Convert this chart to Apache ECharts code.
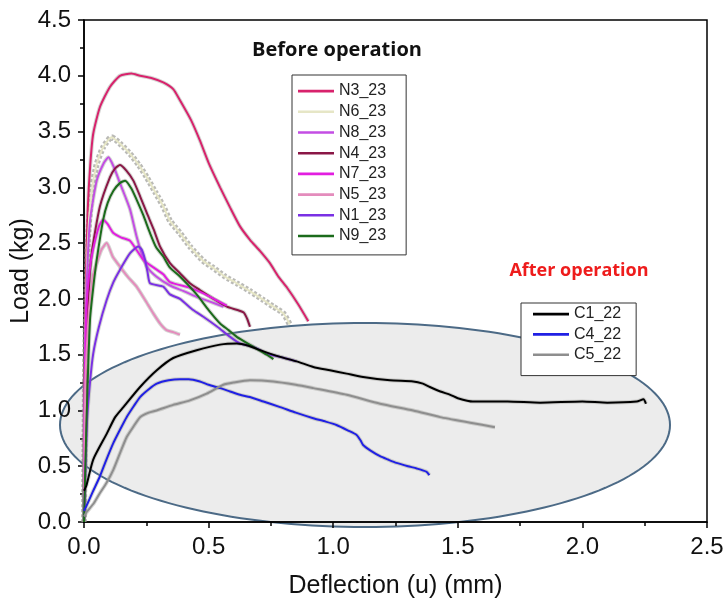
<!DOCTYPE html>
<html>
<head>
<meta charset="utf-8">
<script src="https://cdn.jsdelivr.net/npm/echarts@6/dist/echarts.min.js"></script>
<style>
  html, body { margin: 0; padding: 0; background: #fff; }
  #chart { width: 723px; height: 602px; }
</style>
</head>
<body>
<div id="chart"></div>
<script>
// Load–deflection curves, [deflection (mm), load (kg)]
// Before operation
const N3_23 = [[0,0],[0.003,1.3],[0.008,2.2],[0.015,2.8],[0.025,3.2],[0.037,3.48],[0.064,3.72],[0.104,3.9],[0.144,4.0],[0.19,4.02],[0.225,4.0],[0.27,3.98],[0.318,3.94],[0.358,3.88],[0.385,3.78],[0.43,3.6],[0.465,3.42],[0.5,3.22],[0.546,3.0],[0.586,2.82],[0.626,2.65],[0.666,2.53],[0.706,2.43],[0.746,2.32],[0.78,2.2],[0.815,2.1],[0.86,1.95],[0.9,1.8]];
const N6_23 = [[0,0],[0.005,1.5],[0.015,2.5],[0.03,2.95],[0.05,3.2],[0.077,3.36],[0.111,3.45],[0.15,3.38],[0.185,3.3],[0.22,3.2],[0.252,3.09],[0.285,2.96],[0.318,2.83],[0.345,2.7],[0.385,2.59],[0.425,2.47],[0.479,2.34],[0.518,2.28],[0.566,2.2],[0.613,2.14],[0.666,2.07],[0.72,1.99],[0.76,1.93],[0.8,1.87],[0.826,1.77]];
const N8_23 = [[0,0],[0.005,1.6],[0.012,2.2],[0.024,2.7],[0.051,3.06],[0.08,3.22],[0.098,3.27],[0.12,3.18],[0.144,3.04],[0.165,2.92],[0.185,2.8],[0.211,2.56],[0.231,2.41],[0.252,2.29],[0.29,2.2],[0.345,2.12],[0.4,2.07],[0.45,2.02],[0.5,1.98],[0.56,1.93]];
const N4_23 = [[0,0],[0.006,1.2],[0.015,1.9],[0.031,2.41],[0.064,2.83],[0.104,3.09],[0.125,3.17],[0.144,3.2],[0.17,3.15],[0.198,3.06],[0.225,2.92],[0.252,2.77],[0.28,2.62],[0.305,2.47],[0.345,2.32],[0.385,2.23],[0.425,2.14],[0.465,2.08],[0.52,2.0],[0.573,1.93],[0.64,1.88],[0.655,1.82],[0.666,1.75]];
const N7_23 = [[0,0],[0.003,1.2],[0.011,1.96],[0.025,2.3],[0.037,2.45],[0.06,2.65],[0.077,2.71],[0.095,2.67],[0.118,2.59],[0.15,2.55],[0.185,2.52],[0.238,2.35],[0.28,2.28],[0.318,2.22],[0.345,2.15],[0.425,2.1],[0.479,2.05],[0.53,1.99],[0.573,1.94]];
const N5_23 = [[0,0],[0.005,1.2],[0.02,1.9],[0.035,2.2],[0.051,2.32],[0.07,2.44],[0.091,2.5],[0.115,2.38],[0.144,2.29],[0.175,2.2],[0.211,2.11],[0.245,1.99],[0.278,1.87],[0.305,1.78],[0.331,1.72],[0.36,1.7],[0.385,1.68]];
const N1_23 = [[0,0],[0.012,0.9],[0.024,1.25],[0.037,1.51],[0.06,1.75],[0.091,1.99],[0.118,2.15],[0.144,2.26],[0.185,2.41],[0.218,2.47],[0.232,2.44],[0.245,2.35],[0.255,2.24],[0.265,2.14],[0.318,2.11],[0.345,2.04],[0.385,2.0],[0.438,1.9],[0.479,1.84],[0.535,1.75],[0.586,1.66],[0.626,1.6],[0.68,1.57],[0.733,1.51],[0.787,1.48],[0.853,1.44]];
const N9_23 = [[0,0],[0.01,0.9],[0.024,1.81],[0.037,2.1],[0.051,2.35],[0.077,2.71],[0.095,2.86],[0.118,2.97],[0.145,3.04],[0.165,3.06],[0.19,2.99],[0.211,2.89],[0.238,2.75],[0.265,2.59],[0.29,2.46],[0.318,2.38],[0.345,2.28],[0.385,2.2],[0.452,2.04],[0.5,1.9],[0.546,1.78],[0.58,1.72],[0.613,1.66],[0.68,1.57],[0.733,1.5],[0.76,1.46]];
// After operation
const C1_22 = [[0,0.28],[0.01,0.33],[0.037,0.56],[0.091,0.79],[0.125,0.94],[0.158,1.03],[0.225,1.21],[0.292,1.36],[0.358,1.47],[0.452,1.54],[0.546,1.59],[0.613,1.6],[0.66,1.58],[0.72,1.53],[0.787,1.48],[0.853,1.44],[0.92,1.39],[0.987,1.36],[1.054,1.33],[1.12,1.3],[1.228,1.27],[1.321,1.26],[1.36,1.24],[1.388,1.21],[1.43,1.17],[1.47,1.14],[1.5,1.11],[1.56,1.08],[1.7,1.08],[1.83,1.07],[2.0,1.08],[2.1,1.07],[2.218,1.08],[2.245,1.1],[2.255,1.06]];
const C4_22 = [[0,0.1],[0.011,0.15],[0.035,0.27],[0.064,0.41],[0.09,0.56],[0.118,0.71],[0.145,0.83],[0.171,0.94],[0.2,1.04],[0.225,1.12],[0.26,1.19],[0.292,1.24],[0.34,1.27],[0.385,1.28],[0.42,1.28],[0.465,1.26],[0.5,1.23],[0.546,1.2],[0.586,1.17],[0.626,1.14],[0.666,1.12],[0.72,1.08],[0.787,1.03],[0.85,0.98],[0.92,0.93],[0.97,0.9],[1.013,0.87],[1.06,0.82],[1.094,0.78],[1.11,0.73],[1.12,0.69],[1.15,0.64],[1.188,0.59],[1.22,0.56],[1.254,0.53],[1.3,0.5],[1.335,0.48],[1.375,0.45],[1.386,0.42]];
const C5_22 = [[0,0.05],[0.011,0.09],[0.04,0.17],[0.064,0.26],[0.09,0.35],[0.118,0.47],[0.145,0.62],[0.171,0.76],[0.2,0.86],[0.225,0.94],[0.26,0.98],[0.292,1.0],[0.358,1.05],[0.425,1.09],[0.492,1.15],[0.559,1.23],[0.6,1.25],[0.666,1.27],[0.76,1.26],[0.85,1.23],[0.92,1.2],[1.054,1.14],[1.188,1.06],[1.321,1.0],[1.429,0.94],[1.55,0.89],[1.649,0.85]];

const beforeNames = ['N3_23','N6_23','N8_23','N4_23','N7_23','N5_23','N1_23','N9_23'];
const afterNames = ['C1_22','C4_22','C5_22'];
const xTicks = [0, 0.5, 1.0, 1.5, 2.0, 2.5];
const yTicks = [0, 0.5, 1.0, 1.5, 2.0, 2.5, 3.0, 3.5, 4.0, 4.5];

const curves = { N3_23, N6_23, N8_23, N4_23, N7_23, N5_23, N1_23, N9_23, C1_22, C4_22, C5_22 };
const colors = {
  N3_23: '#d8226c', N6_23: '#e6e6c6', N8_23: '#c34ee4', N4_23: '#8a1746',
  N7_23: '#e21ee0', N5_23: '#e48cbc', N1_23: '#7a30e4', N9_23: '#1b6b1b',
  C1_22: '#000000', C4_22: '#2020e4', C5_22: '#8e8e8e'
};

const FONT = '"Liberation Sans", Arial, sans-serif';
// plain line sample for the legend (tiny corner dots fix the box to 36x14)
const LINE_ICON = 'path://M0,0h0.01v0.01h-0.01z M0,5.8h36v2.6h-36z M35.99,13.99h0.01v0.01h-0.01z';

// noisy raw-signal band drawn under each smoothed curve
const bands = Object.keys(curves).map(n => ({
  type: 'line', name: n + '_raw', data: curves[n], symbol: 'none', silent: true, smooth: 0.2,
  lineStyle: { color: '#8c8c86', width: n === 'N6_23' ? 6 : 4, opacity: n === 'N6_23' ? 0.6 : 0.35,
               type: n === 'N6_23' ? [3, 2] : 'solid' },
  z: 2
}));
const mains = Object.keys(curves).map(n => ({
  type: 'line', name: n, data: curves[n], symbol: 'none', smooth: 0.2,
  lineStyle: { color: colors[n], width: 2 }, itemStyle: { color: colors[n] },
  z: 3
}));

// outline of the "after operation" region
const ell = { cx: 365, cy: 425, rx: 305, ry: 102 };
const ellPts = [];
for (let i = 0; i < 180; i++) {
  const t = i / 180 * Math.PI * 2;
  ellPts.push([ell.cx + ell.rx * Math.cos(t), ell.cy + ell.ry * Math.sin(t)]);
}

const legendBase = {
  orient: 'vertical', icon: LINE_ICON, itemHeight: 14,
  borderColor: '#333', borderWidth: 1, backgroundColor: '#fff',
  textStyle: { fontFamily: FONT, fontSize: 16, color: '#222' },
  selectedMode: false
};

const chart = echarts.init(document.getElementById('chart'));
chart.setOption({
  animation: false,
  backgroundColor: '#ffffff',
  grid: { left: 84, right: 16, top: 20, bottom: 80, show: true, borderColor: '#000', borderWidth: 1.5,
          backgroundColor: 'transparent', containLabel: false, outerBoundsMode: 'none' },
  xAxis: {
    type: 'value', min: xTicks[0], max: xTicks[xTicks.length - 1], interval: 0.5,
    name: 'Deflection (u) (mm)', nameLocation: 'middle', nameGap: 52, nameMoveOverlap: false,
    nameTextStyle: { fontFamily: FONT, fontSize: 25, color: '#111' },
    axisLine: { lineStyle: { color: '#000', width: 1.5 } },
    axisTick: { length: 6, lineStyle: { color: '#000', width: 1.5 } },
    minorTick: { show: true, splitNumber: 2, length: 4, lineStyle: { color: '#000', width: 1.5 } },
    splitLine: { show: false },
    axisLabel: { fontFamily: FONT, fontSize: 24, color: '#111', margin: 13, formatter: v => v.toFixed(1) }
  },
  yAxis: {
    type: 'value', min: yTicks[0], max: yTicks[yTicks.length - 1], interval: 0.5,
    name: 'Load (kg)', nameLocation: 'middle', nameGap: 50, nameMoveOverlap: false,
    nameTextStyle: { fontFamily: FONT, fontSize: 25, color: '#111' },
    axisLine: { lineStyle: { color: '#000', width: 1.5 } },
    axisTick: { length: 6, lineStyle: { color: '#000', width: 1.5 } },
    minorTick: { show: true, splitNumber: 2, length: 4, lineStyle: { color: '#000', width: 1.5 } },
    splitLine: { show: false },
    axisLabel: { fontFamily: FONT, fontSize: 24, color: '#111', margin: 13, formatter: v => v.toFixed(1) }
  },
  legend: [
    Object.assign({}, legendBase, {
      data: beforeNames, left: 292, top: 75,
      padding: [8, 20, 11, 6], itemWidth: 36, itemGap: 4.7
    }),
    Object.assign({}, legendBase, {
      data: afterNames, left: 521, top: 303,
      padding: [3, 15, 13, 12], itemWidth: 36, itemGap: 4.3
    })
  ],
  graphic: [
    {
      type: 'polygon', z: -1, silent: true,
      shape: { points: ellPts },
      style: { fill: '#ececec', stroke: '#4c6a86', lineWidth: 2 }
    },
    {
      type: 'text', silent: true, z: 10,
      style: { text: 'Before operation', x: 337, y: 50, align: 'center', verticalAlign: 'middle',
               font: 'bold 20px "Open Sans", sans-serif', fill: '#111' }
    },
    {
      type: 'text', silent: true, z: 10,
      style: { text: 'After operation', x: 579, y: 271, align: 'center', verticalAlign: 'middle',
               font: 'bold 18px "Open Sans", sans-serif', fill: '#ee1c1c' }
    }
  ],
  series: bands.concat(mains)
});
</script>
</body>
</html>
